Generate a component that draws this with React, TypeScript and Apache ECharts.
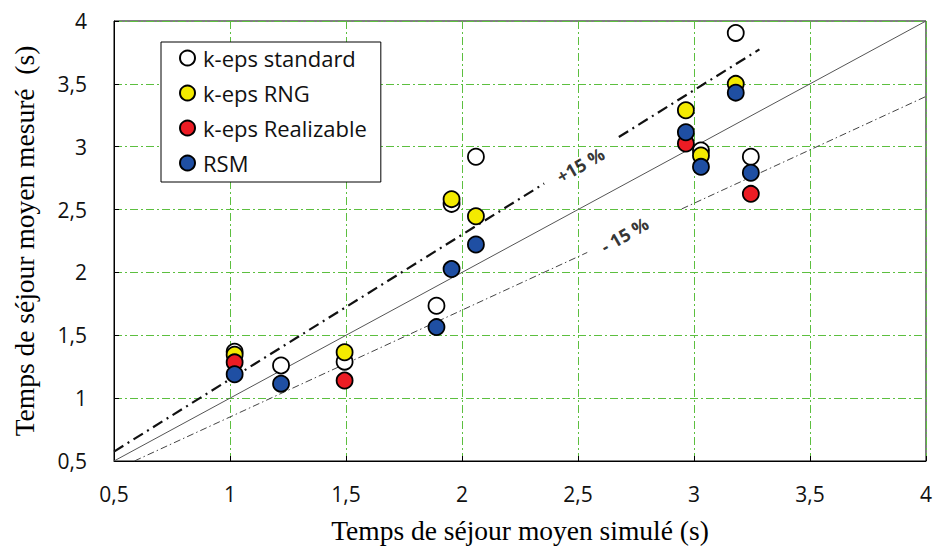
import React, { useEffect, useRef } from "react";
import * as echarts from "echarts";

// ---- data ----
const seriesNames = ["k-eps standard", "k-eps RNG", "k-eps Realizable", "RSM"];
const seriesColors = ["#ffffff", "#f3ea00", "#ec1c24", "#1f4fa3"];

const kEpsStandard = [
  [1.02, 1.37], [1.22, 1.26], [1.494, 1.29], [1.89, 1.735], [1.955, 2.545],
  [2.06, 2.92], [3.03, 2.97], [3.18, 3.905], [3.245, 2.92],
];
const kEpsRNG = [
  [1.02, 1.345], [1.494, 1.365], [1.955, 2.583], [2.06, 2.447],
  [2.965, 3.29], [3.03, 2.93], [3.18, 3.5],
];
const kEpsRealizable = [
  [1.02, 1.285], [1.494, 1.14], [2.965, 3.025], [3.245, 2.625],
];
const rsm = [
  [1.02, 1.19], [1.22, 1.115], [1.89, 1.565], [1.955, 2.027], [2.06, 2.222],
  [2.965, 3.115], [3.03, 2.84], [3.18, 3.43], [3.245, 2.793],
];
const seriesData = [kEpsStandard, kEpsRNG, kEpsRealizable, rsm];

// reference lines (y = x, +15 %, -15 %), drawn as segments
const parityLine = [[0.5, 0.5], [4, 4]];
const plus15Left = [[0.5, 0.575], [2.354, 2.707]];
const plus15Right = [[2.676, 3.077], [3.282, 3.774]];
const minus15Left = [[0.588, 0.5], [2.54, 2.159]];
const minus15Right = [[2.947, 2.505], [4, 3.4]];

const lineLabelTexts = ["+15 %", "- 15 %"];
const lineLabelPositions = [[2.51, 2.855], [2.70, 2.30]];

const axisTickValues = [0.5, 1, 1.5, 2, 2.5, 3, 3.5, 4];
const axisTickLabels = ["0,5", "1", "1,5", "2", "2,5", "3", "3,5", "4"];

const xTitle = "Temps de séjour moyen simulé (s)";
const yTitle = "Temps de séjour moyen mesuré  (s)";

const fmt = (v: number) => {
  const i = axisTickValues.findIndex((t) => Math.abs(t - v) < 1e-9);
  return i >= 0 ? axisTickLabels[i] : "";
};

const gridGreen = "#5cbf3f";
const tickFont = "Open Sans";
const serifFont = "Liberation Serif";

export default function App() {
  const ref = useRef<HTMLDivElement>(null);
  useEffect(() => {
    if (!ref.current) return;
    const chart = echarts.init(ref.current, undefined, { renderer: "svg" });

    const splitLine = {
      show: true,
      lineStyle: { color: gridGreen, width: 1, type: [8, 3, 2, 3] as any },
    };
    const axisCommon = {
      type: "value" as const,
      min: 0.5,
      max: 4,
      interval: 0.5,
      nameLocation: "middle" as const,
      axisLine: { show: true, lineStyle: { color: "#000", width: 1 } },
      axisTick: { show: true, inside: true, length: 5, lineStyle: { color: "#000" } },
      splitLine,
      nameTextStyle: { fontFamily: serifFont, fontSize: 27.5, color: "#000" },
    };

    const refLine = (data: number[][], style: any) => ({
      type: "line",
      data,
      symbol: "none",
      silent: true,
      z: 1,
      lineStyle: style,
      tooltip: { show: false },
    });
    const plusStyle = { color: "#111", width: 2.2, type: [11, 5, 2, 5] };
    const minusStyle = { color: "#444", width: 1, type: [7, 3, 1.5, 3] };

    const option: any = {
      animation: false,
      backgroundColor: "#fff",
      grid: {
        left: 114,
        right: 5,
        top: 21,
        bottom: 83,
        show: true,
        borderColor: "#000",
        borderWidth: 1,
      },
      xAxis: {
        ...axisCommon,
        name: xTitle,
        nameGap: 55,
        axisLabel: {
          formatter: fmt,
          fontFamily: tickFont,
          fontSize: 21,
          color: "#111",
          margin: 22,
        },
      },
      yAxis: {
        ...axisCommon,
        name: yTitle,
        nameGap: 76,
        nameRotate: 90,
        axisLabel: {
          formatter: fmt,
          fontFamily: tickFont,
          fontSize: 21,
          color: "#111",
          margin: 27,
        },
      },
      legend: {
        data: seriesNames,
        orient: "vertical",
        left: 161,
        top: 42,
        padding: [5, 14, 8, 18],
        itemGap: 13,
        itemWidth: 15,
        itemHeight: 15,
        borderColor: "#000",
        borderWidth: 1,
        backgroundColor: "#fff",
        textStyle: {
          fontFamily: tickFont,
          fontSize: 22,
          lineHeight: 22,
          color: "#111",
          padding: [0, 0, 0, 3],
        },
      },
      series: [
        refLine(parityLine, { color: "#555", width: 1, type: "solid" }),
        refLine(plus15Left, plusStyle),
        refLine(plus15Right, plusStyle),
        refLine(minus15Left, minusStyle),
        refLine(minus15Right, minusStyle),
        ...lineLabelTexts.map((t, i) => ({
          type: "scatter",
          silent: true,
          symbolSize: 0,
          data: [lineLabelPositions[i]],
          label: {
            show: true,
            position: "inside",
            formatter: t,
            rotate: 30,
            fontFamily: tickFont,
            fontWeight: "bold",
            fontSize: 18,
            color: "#000",
          },
        })),
        ...seriesNames.map((name, i) => ({
          type: "scatter",
          name,
          data: seriesData[i],
          symbol: "circle",
          symbolSize: 16,
          clip: false,
          z: 3,
          itemStyle: {
            color: seriesColors[i],
            borderColor: "#000",
            borderWidth: 1.8,
            opacity: 1,
          },
        })),
      ],
    };
    chart.setOption(option);
    return () => chart.dispose();
  }, []);

  return (
    <div
      ref={ref}
      style={{ position: "fixed", left: 0, top: 0, width: 935, height: 549 }}
    />
  );
}
